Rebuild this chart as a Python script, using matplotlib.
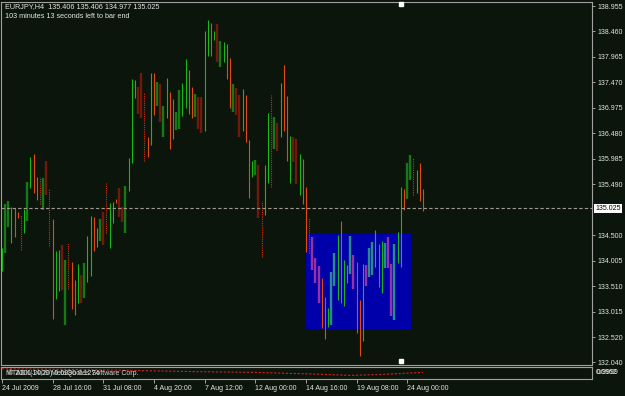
import numpy as np
import matplotlib.pyplot as plt
from matplotlib.patches import Rectangle

plt.rcParams['font.family'] = ['Liberation Sans', 'DejaVu Sans']

# EURJPY H4 bars (high / low per bar, left to right)
highs = [134.25, 135.11, 135.17, 135.05, 135.03, 134.95, 134.90, 135.01, 135.54, 136.02,
         136.08, 135.63, 135.63, 135.61, 135.94, 135.40, 134.82, 134.20, 134.22, 134.31,
         134.02, 134.35, 133.98, 133.63, 133.94, 133.73, 133.96, 134.49, 134.88, 134.86,
         134.64, 134.82, 134.95, 135.54, 135.13, 135.15, 135.21, 135.42, 135.05, 135.46,
         136.00, 137.54, 137.52, 137.38, 137.65, 137.27, 136.41, 137.65, 137.65, 137.48,
         137.44, 137.01, 137.56, 137.28, 137.15, 136.90, 137.32, 137.46, 137.93, 137.71,
         137.38, 137.25, 137.19, 137.19, 138.47, 138.68, 138.62, 138.47, 138.61, 138.28,
         138.26, 138.22, 137.94, 137.44, 137.36, 137.23, 137.34, 137.23, 136.35, 135.94,
         135.96, 135.87, 135.17, 135.87, 136.88, 137.23, 136.80, 136.68, 137.46, 137.81,
         137.21, 136.43, 136.41, 136.37, 136.08, 135.98, 135.44, 134.84, 134.47, 134.06,
         133.90, 133.67, 133.30, 133.09, 133.79, 134.16, 134.51, 134.78, 134.02, 133.92,
         134.49, 134.12, 133.98, 133.24, 133.94, 133.92, 134.25, 134.37, 134.60, 134.33,
         134.39, 134.35, 134.47, 133.94, 134.33, 134.57, 135.44, 135.40, 135.91, 136.06,
         136.00, 135.77, 135.91, 135.406]
lows = [133.81, 134.16, 134.66, 134.35, 134.47, 134.84, 134.22, 134.55, 134.78, 135.42,
        135.32, 135.19, 135.11, 134.99, 135.28, 134.29, 132.88, 133.26, 133.42, 133.44,
        132.76, 133.46, 133.07, 132.95, 133.19, 133.19, 133.28, 133.59, 133.71, 134.20,
        134.27, 134.39, 134.31, 134.55, 134.25, 134.74, 135.13, 134.86, 134.76, 134.55,
        135.36, 135.91, 137.17, 136.86, 136.78, 135.94, 136.02, 136.26, 136.84, 137.01,
        136.70, 136.41, 136.78, 136.18, 136.37, 136.55, 136.57, 136.82, 136.97, 136.86,
        136.78, 136.80, 136.57, 136.49, 136.53, 137.98, 137.98, 138.30, 137.87, 137.77,
        137.87, 137.54, 136.97, 136.90, 136.84, 136.41, 136.53, 136.31, 135.23, 135.63,
        135.67, 134.84, 134.08, 134.90, 135.52, 135.44, 136.18, 136.14, 136.41, 136.53,
        135.94, 135.52, 135.92, 135.50, 135.28, 135.11, 134.18, 134.16, 133.83, 133.57,
        133.19, 132.70, 132.49, 132.72, 132.76, 133.52, 133.24, 133.19, 133.13, 133.57,
        133.75, 133.46, 132.60, 132.16, 132.45, 133.52, 133.69, 133.73, 133.89, 133.50,
        133.38, 133.87, 133.87, 132.93, 132.86, 133.96, 133.89, 134.99, 135.21, 135.58,
        135.28, 135.32, 135.17, 134.977]
# U up bar, D down bar, G / R shaded bars, P dotted bar
kinds = ("UGGUDDPUGU" "DDPGRPDUUR" "GPDDURGUUD" "UGRPUUDRRG" "UUURRPDUDG"
         "RGUDDGGUUD" "DGRRUUDURG" "UDDGRRUDDU" "GRPUUPGRUD" "DURRUDDPRR"
         "RDDUGGUDUU" "GRDDURGGUD" "UGRRGUUDGG" "PUDD")

price_ticks = [138.955, 138.460, 137.965, 137.470, 136.975, 136.480, 135.985, 135.490,
               134.500, 134.005, 133.510, 133.015, 132.520, 132.040]
last_price = 135.025
time_idx = [0, 16, 32, 48, 64, 80, 96, 112, 128]
time_labels = ['24 Jul 2009', '28 Jul 16:00', '31 Jul 08:00', '4 Aug 20:00', '7 Aug 12:00',
               '12 Aug 00:00', '14 Aug 16:00', '19 Aug 08:00', '24 Aug 00:00']

# blue rectangle drawn on the chart
box_start, box_end = 96.0, 129.2
box_top, box_bottom = 134.55, 132.68

# small oscillator in the lower window
osc_idx = [0, 20, 40, 60, 80, 100, 110, 120, 133]
osc_val = [0.85, 0.80, 0.72, 0.62, 0.55, 0.40, 0.30, 0.38, 0.55]

bg = '#0c150c'
frame = '#a0a0a0'
txt = '#e4e4e4'
colors = {'U': '#17b817', 'D': '#e34a14', 'G': '#137a17', 'R': '#72190c', 'P': '#d03018'}
box_colors = {'G': '#2a8a8c', 'R': '#9a30a8'}

W, H = 625, 396
fig = plt.figure(figsize=(W / 100, H / 100), dpi=100)
fig.patch.set_facecolor(bg)

ax = fig.add_axes([1 / W, 1 - 365 / H, 591 / W, 363 / H])
ax.set_facecolor(bg)
ax.set_xlim(-0.316, 186.4)
ax.set_ylim(131.982, 139.033)

ax.add_patch(Rectangle((box_start, box_bottom), box_end - box_start, box_top - box_bottom,
                       facecolor='#0000aa', edgecolor='none', zorder=1))

for i, (hi, lo, k) in enumerate(zip(highs, lows, kinds)):
    c = colors[k]
    in_box = box_start <= i <= box_end and lo < box_top
    if k in box_colors and in_box:
        c = box_colors[k]
    if k in 'GR':
        ax.plot([i, i], [lo, hi], color=c, lw=1.7, solid_capstyle='butt', zorder=2)
    elif k == 'P':
        ax.plot([i, i], [lo, hi], color=c, lw=0.8, ls=(0, (1, 1)), zorder=3)
    else:
        ax.plot([i, i], [lo, hi], color=c, lw=0.8, solid_capstyle='butt', zorder=3)

ax.axhline(last_price, color='#a39890', lw=0.8, ls=(0, (3, 2)), zorder=4)

# little white markers at top and bottom of the window
ax.plot([126, 126], [0.995, 0.01], ls='none', marker='s', ms=2.5, color='white',
        transform=ax.get_xaxis_transform(), clip_on=False, zorder=5)

ax.set_xticks([])
ax.yaxis.tick_right()
ax.set_yticks(price_ticks)
ax.set_yticklabels(['%.3f' % v for v in price_ticks])
ax.tick_params(axis='y', length=2.5, width=0.7, color=frame, labelcolor=txt,
               labelsize=5, pad=1.5)
for s in ax.spines.values():
    s.set_color(frame)
    s.set_linewidth(0.8)

ax.annotate('%.3f' % last_price, xy=(1, last_price), xycoords=('axes fraction', 'data'),
            xytext=(2.5, 0), textcoords='offset points', ha='left', va='center',
            fontsize=5, color='black',
            bbox=dict(boxstyle='square,pad=0.15', fc='white', ec='none'))

fig.text(5 / W, 1 - 7 / H, 'EURJPY,H4  135.406 135.406 134.977 135.025', fontsize=5.2,
         color=txt, va='center')
fig.text(5 / W, 1 - 16 / H, '103 minutes 13 seconds left to bar end', fontsize=5.2,
         color=txt, va='center')

# lower window
ax2 = fig.add_axes([1 / W, 1 - 379 / H, 591 / W, 12 / H])
ax2.set_facecolor(bg)
ax2.set_xlim(-0.316, 186.4)
ax2.set_ylim(0, 1)
ax2.plot(osc_idx, osc_val, color='#d02020', lw=0.8, ls=(0, (2, 1.5)))
ax2.set_yticks([])
ax2.set_xticks(time_idx)
ax2.set_xticklabels(time_labels)
for lab in ax2.get_xticklabels():
    lab.set_horizontalalignment('left')
ax2.tick_params(axis='x', length=3, width=0.7, color=frame, labelcolor=txt,
                labelsize=5, pad=1.5)
for s in ax2.spines.values():
    s.set_color(frame)
    s.set_linewidth(0.8)
# the terminal draws these two captions on top of each other
ax2.text(0.008, 0.45, 'MTADX(14,20) 0.0286 0.1274', transform=ax2.transAxes,
         fontsize=5, color='#d8d8d8', va='center')
ax2.text(0.012, 0.45, '\u00a9 2001-2009 MetaQuotes Software Corp.', transform=ax2.transAxes,
         fontsize=5, color='#d8d8d8', va='center')
fig.text(596 / W, 1 - 373 / H, '0.0962', fontsize=5, color=txt, va='center')
fig.text(597 / W, 1 - 373 / H, '0.9999', fontsize=5, color=txt, va='center')

fig.savefig('out.png', dpi=100, facecolor=bg)
